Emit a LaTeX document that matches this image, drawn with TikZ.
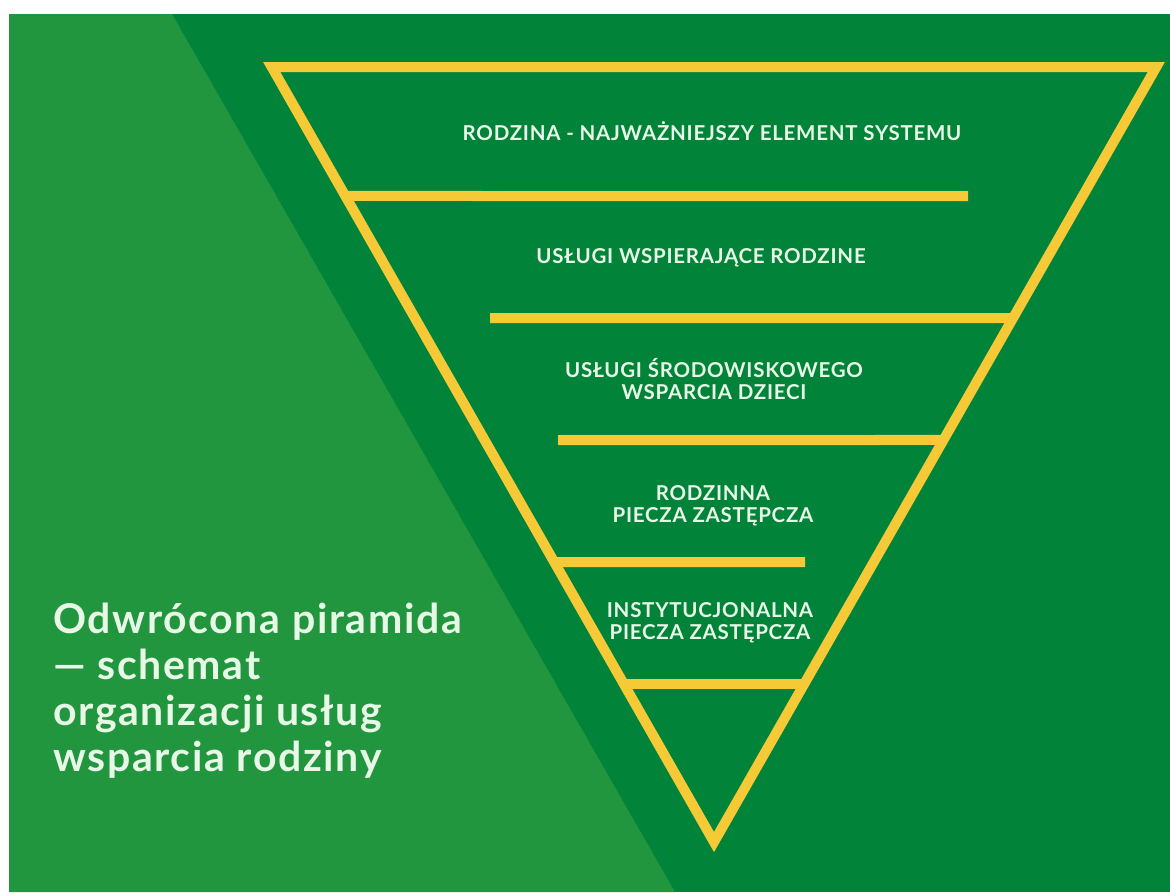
\documentclass[tikz,border=0pt]{standalone}
\usepackage{fontspec}
\setmainfont{Lato}
\usetikzlibrary{calc}
\definecolor{darkgreen}{HTML}{01833A}
\definecolor{lightgreen}{HTML}{22963F}
\definecolor{gold}{HTML}{F6C936}
\definecolor{mint}{HTML}{E8F8E6}

\begin{document}
\begin{tikzpicture}[x=1pt,y=-1pt,
		bar/.style={draw=gold, line width=10pt},
		level/.style={text=mint, font=\bfseries\fontsize{20.5}{22}\selectfont\addfontfeature{LetterSpace=3.6},
				align=center, inner sep=0pt, anchor=base},
		title/.style={text=mint, font=\bfseries\fontsize{41}{46}\selectfont\addfontfeature{LetterSpace=4},
				align=left, inner sep=0pt, anchor=base west},
	]
	\useasboundingbox (0,0) rectangle (1170,892);
	\fill[darkgreen] (9,14) rectangle (1170,892);
	\fill[lightgreen] (9,14) -- (172,14) -- (675,892) -- (9,892) -- cycle;
	%
	\coordinate (tl) at (271.7,67);
	\coordinate (tr) at (1156.3,67);
	\coordinate (ap) at (714,842);
	\foreach \i/\y in {1/196,2/318,3/440,4/562,5/684}{
		\coordinate (l\i) at ($(tl)!{(\y-67)/775}!(ap)$);
		\coordinate (r\i) at ($(tr)!{(\y-67)/775}!(ap)$);
	}
	\coordinate (e1) at (968,196);
	\coordinate (e2) at (490,318);
	\coordinate (e3) at (558,440);
	\coordinate (e4) at (805,562);
	%
	\draw[bar] (l1) -- (e1);
	\draw[bar] (e2) -- (r2);
	\draw[bar] (e3) -- (r3);
	\draw[bar] (l4) -- (e4);
	\draw[bar] (l5) -- (r5);
	\draw[bar, line join=miter] (tl) -- (tr) -- (ap) -- cycle;
	%
	% base of a two-line node is its last line
	\node[level] (rodzina) at (712,140) {RODZINA - NAJWAŻNIEJSZY ELEMENT SYSTEMU};
	\node[level] (uslugi) at (701,263) {USŁUGI WSPIERAJĄCE RODZINE};
	\node[level] (srodowisko) at (714,399) {USŁUGI ŚRODOWISKOWEGO\\WSPARCIA DZIECI};
	\node[level] (rodzinna) at (713,522) {RODZINNA\\PIECZA ZASTĘPCZA};
	\node[level] (instytucja) at (710,639) {INSTYTUCJONALNA\\PIECZA ZASTĘPCZA};
	%
	\node[title] (naglowek) at (53,771) {Odwrócona piramida\\— schemat\\organizacji usług\\wsparcia rodziny};
\end{tikzpicture}
\end{document}
